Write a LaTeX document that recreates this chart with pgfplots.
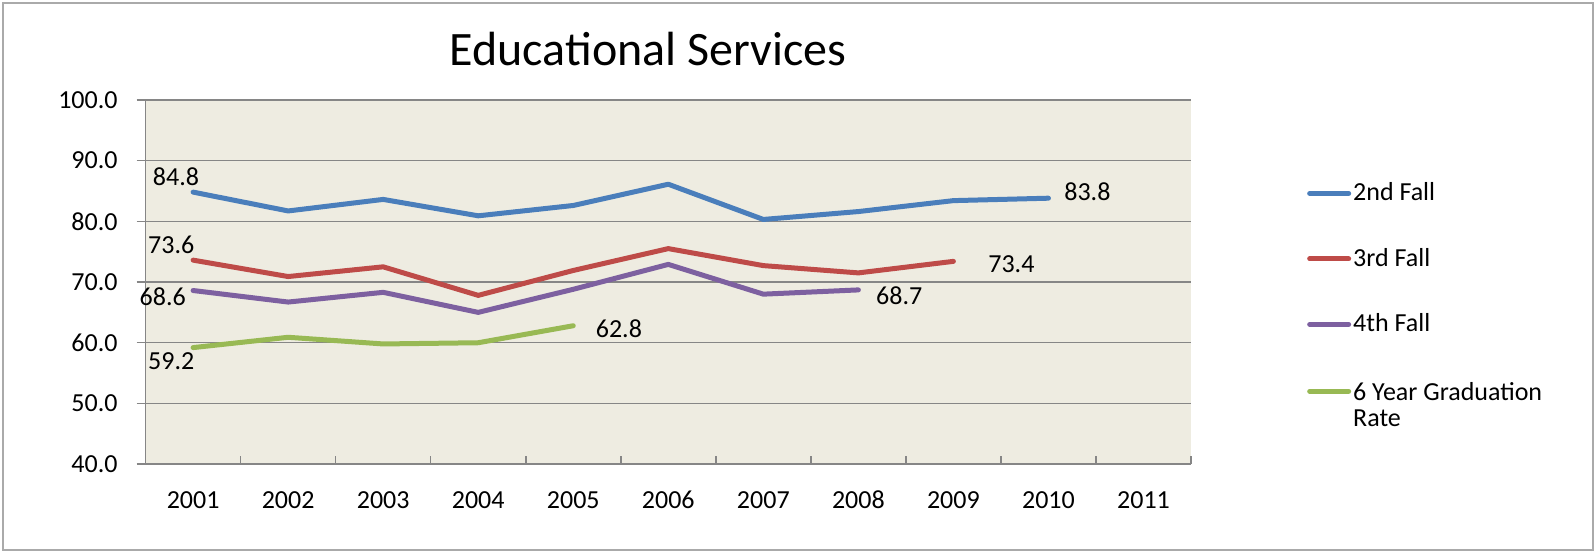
\documentclass[border=0pt]{standalone}
\usepackage{fontspec}
\setmainfont{Carlito}
\usepackage{pgfplots}
\pgfplotsset{compat=1.18}

\definecolor{plotbg}{RGB}{238,236,225}
\definecolor{gridgray}{RGB}{134,134,134}
\definecolor{sblue}{RGB}{74,126,187}
\definecolor{sred}{RGB}{190,75,72}
\definecolor{spurple}{RGB}{125,96,160}
\definecolor{sgreen}{RGB}{152,185,84}

\begin{document}
\begin{tikzpicture}
\path[use as bounding box] (0pt,0pt) rectangle (798pt,-276.5pt);
\draw[gridgray!70, line width=1pt] (1.5pt,-1.5pt) rectangle (796.5pt,-275pt);
\node[font=\fontsize{24}{28}\selectfont] at (324pt,-24.5pt) {Educational Services};
\begin{axis}[
    at={(72.8pt,-232.1pt)}, anchor=south west,
    scale only axis, width=522.7pt, height=182.2pt,
    xmin=-0.5, xmax=10.5, ymin=40, ymax=100,
    axis background/.style={fill=plotbg},
    axis lines*=left,
    axis line style={gridgray, line width=0.75pt},
    tick align=outside,
    major tick length=4.5pt,
    minor tick length=4pt,
    xtick={0,...,10},
    xticklabels={2001,2002,2003,2004,2005,2006,2007,2008,2009,2010,2011},
    minor xtick={-0.5,0.5,...,10.5},
    major x tick style={draw=none},
    minor x tick style={gridgray, line width=0.75pt, yshift=4pt},
    ytick={40,50,...,100},
    y tick style={gridgray, line width=0.75pt},
    ymajorgrids,
    grid style={gridgray, line width=0.75pt},
    /pgf/number format/fixed,
    /pgf/number format/fixed zerofill,
    /pgf/number format/precision=1,
    /pgf/number format/assume math mode=true,
    tick label style={font=\fontsize{13}{15}\selectfont},
    yticklabel style={xshift=-6pt},
    xticklabel style={yshift=-5pt, text height=9pt, text depth=0pt},
    legend style={draw=none, fill=none, at={(1.105,0.795)}, anchor=north west,
      font=\fontsize{13}{15}\selectfont, row sep=18.2pt,
      nodes={inner xsep=1pt}},
    legend cell align=left,
    legend image code/.code={\draw[line width=2.5pt, line cap=round] (0pt,0pt) -- (19.5pt,0pt);},
    every axis plot/.append style={line width=2.5pt, line cap=round, line join=round},
    clip=false,
]
\addplot[sblue] coordinates {
  (0,84.8) (1,81.7) (2,83.6) (3,80.9) (4,82.6) (5,86.1) (6,80.3) (7,81.6) (8,83.4) (9,83.8)
};
\addlegendentry{2nd Fall}
\addplot[sred] coordinates {
  (0,73.6) (1,70.9) (2,72.5) (3,67.8) (4,71.9) (5,75.5) (6,72.7) (7,71.5) (8,73.4)
};
\addlegendentry{3rd Fall}
\addplot[spurple] coordinates {
  (0,68.6) (1,66.7) (2,68.3) (3,65.0) (4,68.8) (5,72.9) (6,68.0) (7,68.7)
};
\addlegendentry{4th Fall}
\addplot[sgreen] coordinates {
  (0,59.2) (1,60.9) (2,59.8) (3,60.0) (4,62.8)
};
\addlegendentry{\begin{tabular}[t]{@{}l@{}}6 Year Graduation\\[-2pt]Rate\end{tabular}}

\begin{scope}[every node/.style={font=\fontsize{13}{15}\selectfont, inner sep=0pt}]
  \node at (axis cs:-0.18,87.3) {84.8};
  \node at (axis cs:-0.23,76.2) {73.6};
  \node at (axis cs:-0.32,67.5) {68.6};
  \node at (axis cs:-0.23,56.9) {59.2};
  \node at (axis cs:4.48,62.3) {62.8};
  \node at (axis cs:7.43,67.7) {68.7};
  \node at (axis cs:8.61,73.0) {73.4};
  \node at (axis cs:9.41,84.9) {83.8};
\end{scope}
\end{axis}
\end{tikzpicture}
\end{document}
